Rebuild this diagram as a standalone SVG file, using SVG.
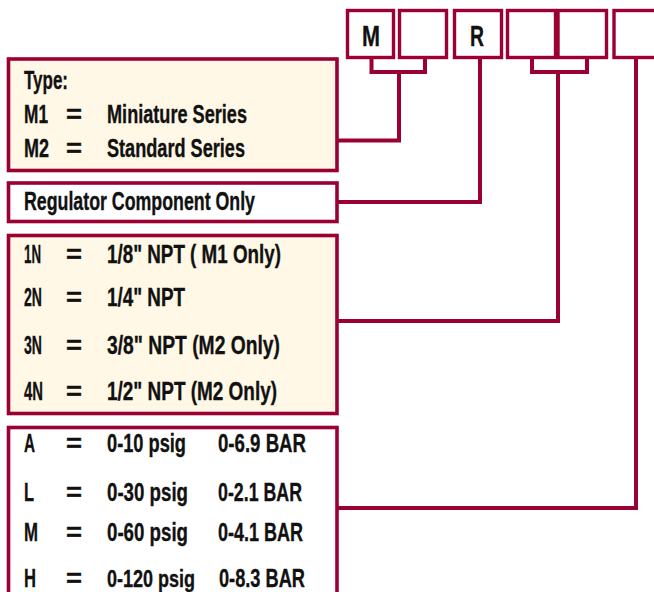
<svg xmlns="http://www.w3.org/2000/svg" width="654" height="592" viewBox="0 0 654 592">
<style>
.box{stroke:#9b0033;stroke-width:3.6;}
.cream{fill:#fff8e6;}
.white{fill:#ffffff;}
.code{fill:#ffffff;stroke:#9b0033;stroke-width:3.4;}
.conn{fill:none;stroke:#9b0033;stroke-width:4;stroke-linejoin:miter;stroke-linecap:butt;}
text{font-family:"Liberation Sans Narrow","Liberation Sans",Arial,sans-serif;font-weight:bold;font-size:26px;fill:#111111;stroke:#111111;stroke-width:0.35;}
.big{font-size:29px;}
.sm{font-size:24px;}
</style>
<rect width="654" height="592" fill="#ffffff"/>
<g id="code-boxes">
  <g id="code-m"><rect class="code" x="347.5" y="10.5" width="46" height="47"/><text class="big" x="362" y="46" textLength="18" lengthAdjust="spacingAndGlyphs">M</text></g>
  <g id="code-m-digit"><rect class="code" x="399.5" y="10.5" width="47" height="47"/></g>
  <g id="code-r"><rect class="code" x="454.5" y="10.5" width="47" height="47"/><text class="big" x="470" y="46" textLength="14" lengthAdjust="spacingAndGlyphs">R</text></g>
  <g id="code-size-a"><rect class="code" x="507.5" y="10.5" width="48" height="47"/></g>
  <g id="code-size-b"><rect class="code" x="558" y="10.5" width="48.5" height="47"/></g>
  <g id="code-pressure"><rect class="code" x="614" y="10.5" width="60" height="47"/></g>
</g>
<g id="connectors">
  <path class="conn" d="M371.5,57 V72 H425 V57 M399,72 V140.5 H338"/>
  <path class="conn" d="M480,57 V202 H338"/>
  <path class="conn" d="M532,57 V72 H587 V57 M558,72 V321 H338"/>
  <path class="conn" d="M636,57 V508 H338"/>
</g>
<g id="type-box">
  <rect class="box cream" x="8.5" y="59" width="328.5" height="111.5"/>
  <text x="24" y="89" textLength="44" lengthAdjust="spacingAndGlyphs">Type:</text>
  <text x="24" y="123" textLength="24" lengthAdjust="spacingAndGlyphs">M1</text>
  <text x="66" y="123" textLength="16" lengthAdjust="spacingAndGlyphs">=</text>
  <text x="107" y="123" textLength="140" lengthAdjust="spacingAndGlyphs">Miniature Series</text>
  <text x="24" y="157" textLength="25" lengthAdjust="spacingAndGlyphs">M2</text>
  <text x="66" y="157" textLength="16" lengthAdjust="spacingAndGlyphs">=</text>
  <text x="107" y="157" textLength="138" lengthAdjust="spacingAndGlyphs">Standard Series</text>
</g>
<g id="regulator-box">
  <rect class="box white" x="8.5" y="183" width="328.5" height="38.5"/>
  <text x="24" y="210" textLength="231" lengthAdjust="spacingAndGlyphs">Regulator Component Only</text>
</g>
<g id="size-box">
  <rect class="box cream" x="8.5" y="235.5" width="328.5" height="178"/>
  <text x="24" y="263" textLength="17" lengthAdjust="spacingAndGlyphs">1N</text>
  <text x="66" y="263" textLength="16" lengthAdjust="spacingAndGlyphs">=</text>
  <text x="107" y="263" textLength="174" lengthAdjust="spacingAndGlyphs">1/8" NPT ( M1 Only)</text>
  <text x="24" y="306" textLength="18" lengthAdjust="spacingAndGlyphs">2N</text>
  <text x="66" y="306" textLength="16" lengthAdjust="spacingAndGlyphs">=</text>
  <text x="107" y="306" textLength="78" lengthAdjust="spacingAndGlyphs">1/4" NPT</text>
  <text x="24" y="354" textLength="18" lengthAdjust="spacingAndGlyphs">3N</text>
  <text x="66" y="354" textLength="16" lengthAdjust="spacingAndGlyphs">=</text>
  <text x="107" y="354" textLength="173" lengthAdjust="spacingAndGlyphs">3/8" NPT (M2 Only)</text>
  <text x="24" y="400" textLength="19" lengthAdjust="spacingAndGlyphs">4N</text>
  <text x="66" y="400" textLength="16" lengthAdjust="spacingAndGlyphs">=</text>
  <text x="107" y="400" textLength="170" lengthAdjust="spacingAndGlyphs">1/2" NPT (M2 Only)</text>
</g>
<g id="pressure-box">
  <rect class="box white" x="8.5" y="427.5" width="328.5" height="180"/>
  <text x="24" y="452" textLength="11" lengthAdjust="spacingAndGlyphs">A</text>
  <text x="66" y="452" textLength="16" lengthAdjust="spacingAndGlyphs">=</text>
  <text x="107" y="452" textLength="79" lengthAdjust="spacingAndGlyphs">0-10 psig</text>
  <text x="218" y="452" textLength="88" lengthAdjust="spacingAndGlyphs">0-6.9 BAR</text>
  <text x="24" y="501" textLength="10" lengthAdjust="spacingAndGlyphs">L</text>
  <text x="66" y="501" textLength="16" lengthAdjust="spacingAndGlyphs">=</text>
  <text x="107" y="501" textLength="81" lengthAdjust="spacingAndGlyphs">0-30 psig</text>
  <text x="218" y="501" textLength="84" lengthAdjust="spacingAndGlyphs">0-2.1 BAR</text>
  <text x="24" y="541" textLength="14" lengthAdjust="spacingAndGlyphs">M</text>
  <text x="66" y="541" textLength="16" lengthAdjust="spacingAndGlyphs">=</text>
  <text x="107" y="541" textLength="81" lengthAdjust="spacingAndGlyphs">0-60 psig</text>
  <text x="218" y="541" textLength="85" lengthAdjust="spacingAndGlyphs">0-4.1 BAR</text>
  <text x="24" y="587" textLength="12" lengthAdjust="spacingAndGlyphs">H</text>
  <text x="66" y="587" textLength="16" lengthAdjust="spacingAndGlyphs">=</text>
  <text class="sm" x="107" y="587" textLength="88" lengthAdjust="spacingAndGlyphs">0-120 psig</text>
  <text x="219" y="587" textLength="86" lengthAdjust="spacingAndGlyphs">0-8.3 BAR</text>
</g>
</svg>
